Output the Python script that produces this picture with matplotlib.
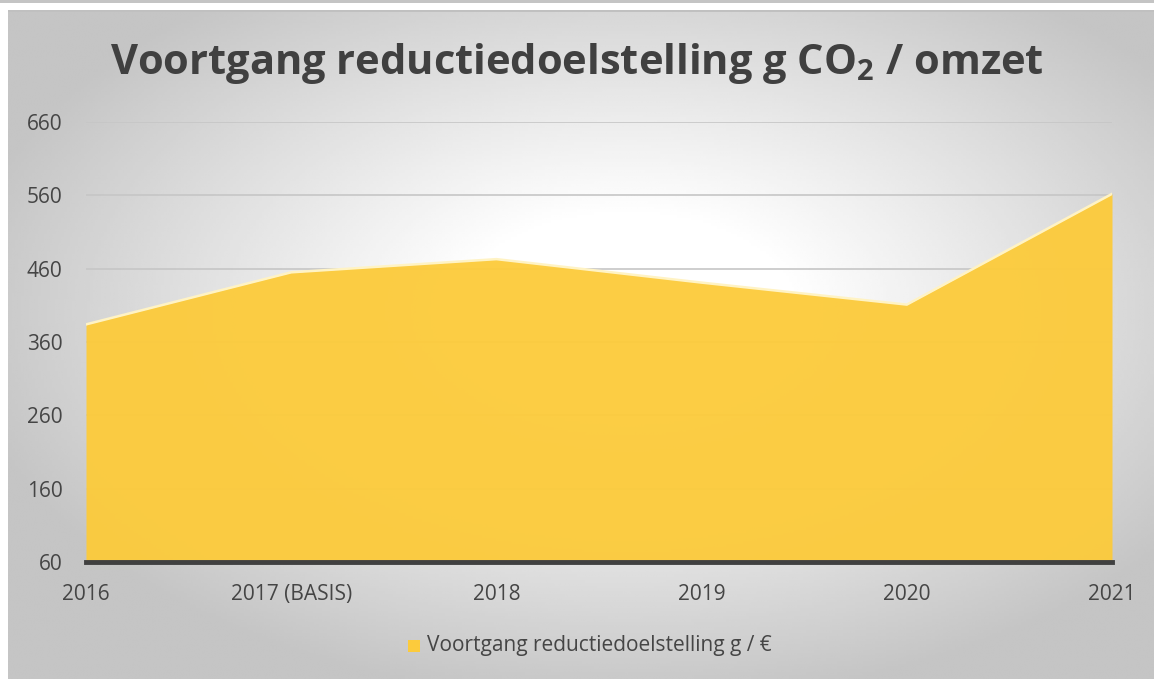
import matplotlib.pyplot as plt
import numpy as np
from matplotlib.patches import Rectangle

# chart data
years = ['2016', '2017 (BASIS)', '2018', '2019', '2020', '2021']
values = [384, 455, 473, 441, 411, 562]
yticks = [60, 160, 260, 360, 460, 560, 660]

plt.rcParams['font.family'] = ['Open Sans', 'DejaVu Sans']
plt.rcParams['mathtext.fontset'] = 'custom'
plt.rcParams['mathtext.rm'] = 'Open Sans'
plt.rcParams['mathtext.bf'] = 'Open Sans:bold'

W, H = 1154, 679
fig = plt.figure(figsize=(W / 100, H / 100), dpi=100)
fig.patch.set_facecolor('white')

# radial gradient background panel
bg = fig.add_axes([8 / W, 0, 1 - 8 / W, 669 / H])
bg.set_axis_off()
gx, gy = np.meshgrid(np.linspace(0, 1, 400), np.linspace(0, 1, 240))
r = np.sqrt(((gx - 0.54) / 0.72) ** 2 + ((gy - 0.55) / 0.72) ** 2)
shade = 1.0 - 0.23 * np.clip((r - 0.2) / 0.62, 0, 1)
bg.imshow(shade, cmap='gray', vmin=0, vmax=1, aspect='auto', origin='lower',
          extent=[0, 1, 0, 1], interpolation='bilinear')
bg.set_xlim(0, 1)
bg.set_ylim(0, 1)
# top strip of neighbouring frame
fig.patches.append(Rectangle((0, 1 - 3 / H), 1, 3 / H, transform=fig.transFigure,
                             facecolor='#c4c4c4', edgecolor='none'))
fig.patches.append(Rectangle((8 / W, 669 / H - 2 / H), 1, 2 / H, transform=fig.transFigure,
                             facecolor='#c0c0c0', edgecolor='none'))

ax = fig.add_axes([86 / W, 117 / H, (1112 - 86) / W, (562 - 122) / H])
ax.patch.set_alpha(0)
x = np.arange(len(years))
ax.fill_between(x, 60, values, color='#fccb3c', alpha=0.96, zorder=2, linewidth=0)
ax.plot(x, values, color='#fff3c4', linewidth=1.8, zorder=3)
ax.set_xlim(0, len(years) - 1)
ax.set_ylim(60, 660)
ax.set_yticks(yticks)
ax.set_xticks(x)
ax.set_xticklabels(years)
ax.grid(axis='y', color='#c6c6c6', linewidth=1.2, zorder=1)
for s in ['top', 'right', 'left']:
    ax.spines[s].set_visible(False)
ax.spines['bottom'].set_color('#404040')
ax.spines['bottom'].set_linewidth(3.5)
ax.spines['bottom'].set_zorder(4)
ax.tick_params(length=0, labelsize=15, colors='#454545')
ax.tick_params(axis='y', pad=17)
ax.tick_params(axis='x', pad=16)

fig.text(0.5, 1 - 63 / H, r'Voortgang reductiedoelstelling g CO$_\mathbf{2}$ / omzet',
         ha='center', va='center', fontsize=30, fontweight='bold', color='#404040')

fig.patches.append(Rectangle((408 / W, 1 - 652 / H), 12 / W, 12 / H, transform=fig.transFigure,
                             facecolor='#fccb3c', edgecolor='none'))
fig.text(427 / W, 1 - 646 / H, 'Voortgang reductiedoelstelling g / €',
         ha='left', va='center', fontsize=15, color='#454545')

fig.savefig('out.png', dpi=100)
